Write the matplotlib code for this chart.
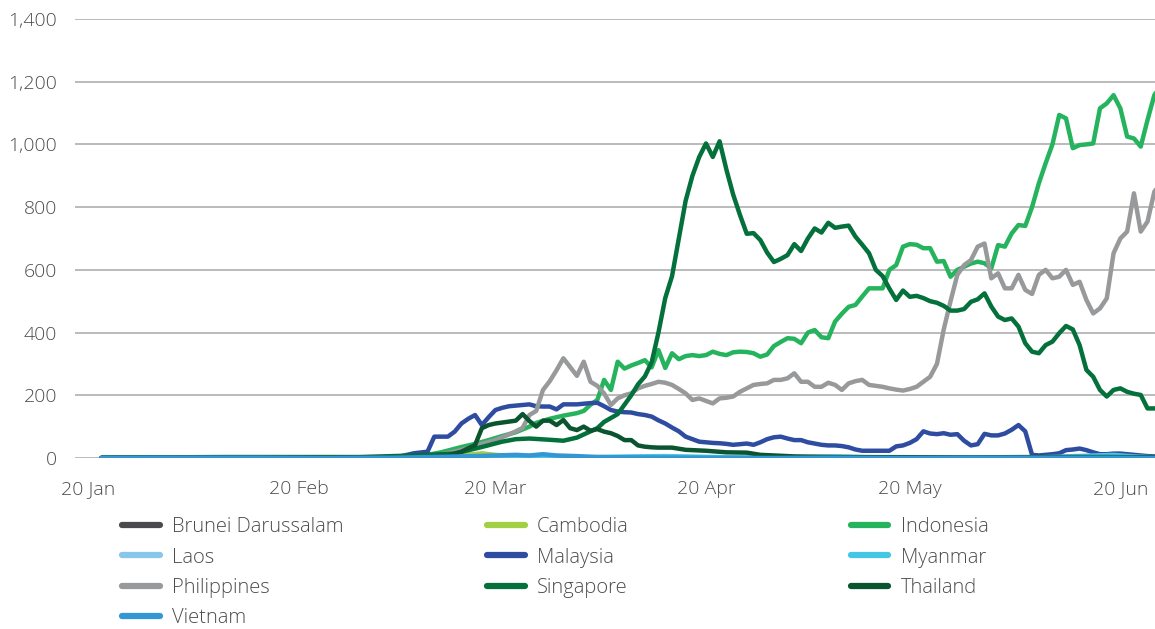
import numpy as np
import pandas as pd
import matplotlib
matplotlib.use("Agg")
import matplotlib.pyplot as plt
from matplotlib.ticker import StrMethodFormatter
from matplotlib.lines import Line2D

# daily new cases (7-day average), day = days since 20 Jan 2020
START = pd.Timestamp("2020-01-20")

brunei_day = [2, 45, 50, 53, 56, 60, 65, 70, 75, 85, 157]
brunei_cases = [0, 0, 5, 8, 10, 7, 5, 3, 1, 0, 0]

cambodia_day = [2, 45, 50, 55, 58, 60, 63, 66, 70, 75, 80, 157]
cambodia_cases = [0, 0, 2, 8, 15, 10, 6, 5, 3, 1, 0, 0]

indonesia_day = [2, 45, 48, 50, 52, 55, 57, 59, 61, 63, 65, 66, 68, 70, 72, 73, 74, 75,
                 76, 77, 78, 79, 80, 81, 82, 83, 84, 85, 86, 87, 88, 89, 90, 91, 92, 93,
                 94, 95, 96, 97, 98, 99, 100, 101, 102, 103, 104, 105, 106, 107, 108, 109,
                 110, 111, 112, 113, 114, 115, 116, 117, 118, 119, 120, 121, 122, 123, 124,
                 125, 126, 127, 128, 129, 130, 131, 132, 133, 134, 135, 136, 137, 138, 139,
                 140, 141, 142, 143, 144, 145, 146, 147, 148, 149, 150, 151, 152, 153, 154,
                 155, 156, 157, 158]
indonesia_cases = [0, 2, 5, 10, 18, 35, 45, 57, 70, 82, 100, 112, 125, 135, 143, 150, 170, 185,
                   249, 217, 307, 285, 295, 303, 312, 289, 344, 287, 334, 315, 325, 328, 325, 328, 339, 332,
                   328, 337, 339, 338, 334, 323, 330, 357, 370, 382, 380, 366, 400, 408, 385, 382,
                   435, 460, 482, 488, 515, 541, 541, 541, 600, 615, 674, 682, 680, 669, 669,
                   626, 628, 578, 600, 610, 620, 626, 621, 605, 679, 674, 716, 743, 740, 800,
                   876, 940, 1000, 1094, 1083, 988, 998, 1000, 1003, 1115, 1131, 1157, 1115, 1025, 1019,
                   993, 1078, 1157, 1190]

laos_day = [2, 60, 65, 70, 75, 80, 85, 157]
laos_cases = [0, 0, 1, 1, 2, 1, 0, 0]

malaysia_day = [2, 10, 20, 40, 44, 46, 47, 48, 50, 51, 53, 54, 55, 56, 57, 58, 59, 60, 61, 62,
                64, 65, 66, 67, 68, 69, 70, 72, 73, 74, 75, 76, 77, 78, 79, 80, 81, 82, 83, 84,
                85, 86, 87, 88, 89, 90, 91, 92, 93, 94, 95, 96, 97, 98, 99, 100, 101, 102, 103,
                104, 105, 106, 107, 108, 109, 110, 111, 112, 113, 114, 116, 118, 119, 120, 121,
                122, 123, 124, 125, 126, 127, 128, 129, 130, 131, 132, 133, 134, 135, 136, 137,
                138, 139, 140, 141, 142, 143, 144, 145, 146, 147, 148, 149, 150, 151, 152, 153,
                154, 155, 156, 157, 158]
malaysia_cases = [0, 1, 1, 0, 1, 5, 10, 15, 20, 68, 68, 84, 110, 125, 137, 105, 130, 153, 160, 165,
                  169, 171, 165, 164, 164, 155, 171, 171, 173, 175, 176, 165, 153, 148, 146, 145, 140, 137, 132, 120,
                  110, 97, 85, 68, 60, 52, 50, 48, 47, 45, 42, 44, 46, 42, 50, 60, 66, 68, 62,
                  57, 57, 50, 46, 42, 40, 40, 38, 34, 27, 23, 23, 23, 37, 40, 48,
                  60, 85, 78, 76, 79, 74, 76, 55, 40, 44, 77, 72, 72, 78, 90, 105,
                  85, 10, 8, 10, 12, 15, 25, 27, 30, 25, 18, 12, 12, 14, 14, 12,
                  10, 8, 6, 5, 5]

myanmar_day = [2, 60, 65, 70, 75, 80, 85, 90, 95, 100, 106, 110, 115, 120, 130, 140, 148, 151, 154, 157]
myanmar_cases = [0, 0, 1, 2, 3, 5, 6, 4, 2, 1, 3, 5, 2, 1, 1, 2, 8, 10, 5, 2]

philippines_day = [2, 45, 48, 50, 52, 54, 56, 58, 60, 62, 63, 64, 65, 66, 67, 68, 69, 70, 71, 72,
                   73, 74, 75, 76, 77, 78, 79, 80, 81, 82, 83, 84, 85, 86, 87, 88, 89, 90, 91,
                   92, 93, 94, 95, 96, 97, 98, 99, 100, 101, 102, 103, 104, 105, 106, 107, 108,
                   109, 110, 111, 112, 113, 114, 115, 116, 117, 118, 119, 120, 121, 122, 123, 124,
                   125, 126, 127, 128, 129, 130, 131, 132, 133, 134, 135, 136, 137, 138, 139, 140,
                   141, 142, 143, 144, 145, 146, 147, 148, 149, 150, 151, 152, 153, 154, 155, 156,
                   157, 158]
philippines_cases = [0, 0, 3, 8, 12, 20, 32, 45, 57, 75, 85, 96, 137, 150, 217, 245, 280, 318, 290, 262,
                     307, 243, 230, 206, 169, 190, 200, 206, 222, 230, 236, 243, 240, 233, 220, 206, 185, 190, 182,
                     174, 190, 192, 196, 211, 222, 233, 236, 238, 249, 249, 254, 270, 243, 243, 227, 227,
                     240, 233, 217, 238, 245, 249, 233, 230, 227, 222, 218, 215, 220, 227, 243, 259,
                     300, 410, 500, 584, 615, 631, 674, 684, 573, 589, 541, 541, 584, 536, 523, 584,
                     600, 573, 578, 600, 552, 562, 504, 461, 477, 509, 653, 700, 722, 844, 722, 754,
                     849, 880]

singapore_day = [2, 20, 40, 48, 54, 58, 61, 63, 65, 68, 70, 72, 74, 75, 76, 78, 79, 80, 81, 82,
                 83, 84, 85, 86, 87, 88, 89, 90, 91, 92, 93, 94, 95, 96, 97, 98, 99, 100, 101,
                 102, 103, 104, 105, 106, 107, 108, 109, 110, 111, 112, 113, 114, 115, 116, 117,
                 118, 119, 120, 121, 122, 123, 124, 125, 126, 127, 128, 129, 130, 131, 132, 133,
                 134, 135, 136, 137, 138, 139, 140, 141, 142, 143, 144, 145, 146, 147, 148, 149,
                 150, 151, 152, 153, 154, 155, 156, 157, 158]
singapore_cases = [1, 3, 3, 8, 14, 35, 52, 60, 62, 58, 55, 65, 85, 95, 115, 140, 170, 200, 235, 260,
                   305, 400, 510, 580, 700, 820, 900, 960, 1003, 960, 1010, 920, 840, 775, 715, 717, 695, 655, 625,
                   635, 647, 682, 660, 700, 732, 719, 750, 734, 738, 741, 706, 680, 653, 600, 580,
                   540, 504, 534, 514, 517, 510, 500, 495, 485, 470, 470, 475, 498, 506, 525, 483,
                   451, 440, 445, 419, 366, 339, 334, 360, 371, 398, 421, 410, 360, 281, 259, 217,
                   196, 217, 222, 211, 205, 201, 158, 158, 160]

thailand_day = [2, 10, 40, 50, 53, 55, 56, 57, 58, 59, 60, 61, 62, 63, 64, 65, 66, 67, 68, 69,
                70, 71, 72, 73, 74, 75, 76, 77, 78, 79, 80, 81, 82, 83, 84, 86, 88, 91, 94, 97,
                99, 102, 104, 110, 130, 140, 150, 158]
thailand_cases = [0, 1, 1, 3, 8, 20, 31, 41, 95, 105, 110, 113, 116, 119, 140, 118, 100, 119, 119, 105,
                  121, 95, 89, 100, 87, 92, 84, 79, 70, 57, 57, 40, 36, 34, 33, 33, 26, 23, 18, 17,
                  10, 7, 5, 3, 2, 3, 3, 2]

vietnam_day = [2, 10, 15, 25, 35, 45, 50, 55, 60, 63, 65, 67, 69, 72, 75, 80, 90, 100, 110, 120,
               130, 140, 150, 158]
vietnam_cases = [0, 1, 1, 1, 0, 1, 3, 5, 8, 10, 8, 12, 8, 6, 3, 2, 1, 0, 1, 0,
                 1, 1, 1, 0]

countries = ["Brunei Darussalam", "Cambodia", "Indonesia", "Laos", "Malaysia",
             "Myanmar", "Philippines", "Singapore", "Thailand", "Vietnam"]
series = [(brunei_day, brunei_cases), (cambodia_day, cambodia_cases),
          (indonesia_day, indonesia_cases), (laos_day, laos_cases),
          (malaysia_day, malaysia_cases), (myanmar_day, myanmar_cases),
          (philippines_day, philippines_cases), (singapore_day, singapore_cases),
          (thailand_day, thailand_cases), (vietnam_day, vietnam_cases)]
colors = ["#4b4b4d", "#a2d045", "#26b35d", "#88c6ec", "#2e4da0",
          "#45c6e4", "#97999b", "#04703b", "#0b5430", "#3497d4"]

y_ticks = [0, 200, 400, 600, 800, 1000, 1200, 1400]
x_tick_labels = ["20 Jan", "20 Feb", "20 Mar", "20 Apr", "20 May", "20 Jun"]

FONT = ["Open Sans", "DejaVu Sans"]
TEXT = "#4d4d4d"
plt.rcParams["font.family"] = FONT

fig = plt.figure(figsize=(11.55, 6.29), dpi=100)
ax = fig.add_axes([0.0649, 0.2719, 0.9351, 0.6979])

lines = {}
for name, (days, vals), col in zip(countries, series, colors):
    dates = START + pd.to_timedelta(days, unit="D")
    ln, = ax.plot(dates, vals, color=col, lw=3.2, solid_joinstyle="round",
                  solid_capstyle="round", label=name, zorder=3)
    lines[name] = ln

ax.set_ylim(0, 1400)
ax.set_yticks(y_ticks)
ax.yaxis.set_major_formatter(StrMethodFormatter("{x:,.0f}"))
ax.set_xlim(START - pd.Timedelta(days=1.9), START + pd.Timedelta(days=157.1))
ax.set_xticks([pd.Timestamp(f"2020-{m:02d}-20") for m in range(1, 7)])
ax.set_xticklabels(x_tick_labels)

ax.grid(axis="y", color="#b5b5b5", lw=1.3, zorder=0)
for s in ax.spines.values():
    s.set_visible(False)
ax.tick_params(axis="both", length=0, labelsize=14, colors=TEXT)
ax.tick_params(axis="y", pad=13)
ax.tick_params(axis="x", pad=16)
for lab in ax.get_xticklabels() + ax.get_yticklabels():
    lab.set_fontweight("light")

# legend in three columns, row-major like the original
cols = [["Brunei Darussalam", "Laos", "Philippines", "Vietnam"],
        ["Cambodia", "Malaysia", "Singapore"],
        ["Indonesia", "Myanmar", "Thailand"]]
col_x = [0.106, 0.422, 0.737]
for names, x0 in zip(cols, col_x):
    handles = [Line2D([], [], color=lines[n].get_color(), lw=4.5, solid_capstyle="round")
               for n in names]
    leg = fig.legend(handles, names, loc="upper left", bbox_to_anchor=(x0, 0.178),
                     frameon=False, handlelength=1.85, handletextpad=0.6,
                     labelspacing=0.52, borderpad=0, borderaxespad=0,
                     prop={"family": FONT, "weight": "light", "size": 14.5})
    for t in leg.get_texts():
        t.set_color(TEXT)

fig.savefig("out.png", dpi=100)
